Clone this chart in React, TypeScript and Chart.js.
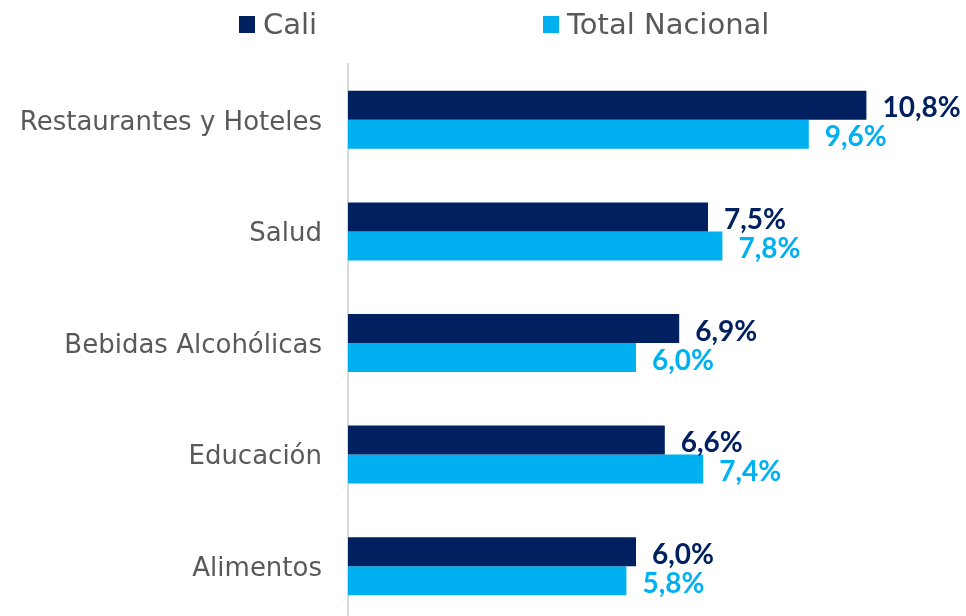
import React, { useEffect, useRef } from "react";
import { Chart, registerables } from "chart.js";

Chart.register(...registerables);

const categories = [
  "Restaurantes y Hoteles",
  "Salud",
  "Bebidas Alcohólicas",
  "Educación",
  "Alimentos",
];
const cali = [10.8, 7.5, 6.9, 6.6, 6.0];
const totalNacional = [9.6, 7.8, 6.0, 7.4, 5.8];
const seriesNames = ["Cali", "Total Nacional"];
const seriesColors = ["#002060", "#00B0F0"];
const xMin = 0;
const xMax = 12;

const fmt = (v: number) => v.toFixed(1).replace(".", ",") + "%";

const valueLabels = {
  id: "valueLabels",
  afterDatasetsDraw(chart: any) {
    const ctx = chart.ctx;
    ctx.save();
    ctx.font = "bold 28px Lato";
    ctx.textAlign = "left";
    ctx.textBaseline = "middle";
    chart.data.datasets.forEach((ds: any, i: number) => {
      const meta = chart.getDatasetMeta(i);
      ctx.fillStyle = ds.backgroundColor;
      meta.data.forEach((el: any, j: number) => {
        ctx.fillText(fmt(ds.data[j]), el.x + 16, el.y + 3);
      });
    });
    ctx.restore();
  },
};

const topLegend = {
  id: "topLegend",
  afterDraw(chart: any) {
    const ctx = chart.ctx;
    const xs = [239, 543];
    ctx.save();
    ctx.font = "29px 'DejaVu Sans'";
    ctx.textAlign = "left";
    ctx.textBaseline = "alphabetic";
    chart.data.datasets.forEach((ds: any, i: number) => {
      ctx.fillStyle = ds.backgroundColor;
      ctx.fillRect(xs[i], 16, 16, 17);
      ctx.fillStyle = "#595959";
      ctx.fillText(ds.label, xs[i] + 24, 34);
    });
    ctx.restore();
  },
};

export default function App() {
  const ref = useRef<HTMLCanvasElement | null>(null);
  useEffect(() => {
    if (!ref.current) return;
    const chart = new Chart(ref.current, {
      type: "bar",
      data: {
        labels: categories,
        datasets: [
          {
            label: seriesNames[0],
            data: cali,
            backgroundColor: seriesColors[0],
            borderWidth: 0,
            barPercentage: 1,
            categoryPercentage: 0.52,
          },
          {
            label: seriesNames[1],
            data: totalNacional,
            backgroundColor: seriesColors[1],
            borderWidth: 0,
            barPercentage: 1,
            categoryPercentage: 0.52,
          },
        ],
      },
      options: {
        indexAxis: "y",
        responsive: false,
        animation: false,
        layout: { padding: { top: 64, right: 42, left: 0, bottom: 0 } },
        plugins: {
          legend: { display: false },
          tooltip: { enabled: false },
        },
        scales: {
          x: { display: false, min: xMin, max: xMax },
          y: {
            grid: { display: false, drawTicks: false },
            border: { display: true, color: "#d9d9d9", width: 2 },
            ticks: {
              color: "#595959",
              font: { family: "DejaVu Sans", size: 26 },
              padding: 26,
              labelOffset: 3,
            },
            afterFit(scale: any) {
              scale.width = 348;
              scale.paddingTop = 0;
              scale.paddingBottom = 0;
            },
          },
        },
      } as any,
      plugins: [valueLabels, topLegend],
    });
    return () => chart.destroy();
  }, []);
  return (
    <div
      style={{
        position: "fixed",
        top: 0,
        left: 0,
        width: 966,
        height: 616,
        overflow: "hidden",
        background: "#ffffff",
      }}
    >
      <canvas ref={ref} width={966} height={622} style={{ display: "block" }} />
    </div>
  );
}
